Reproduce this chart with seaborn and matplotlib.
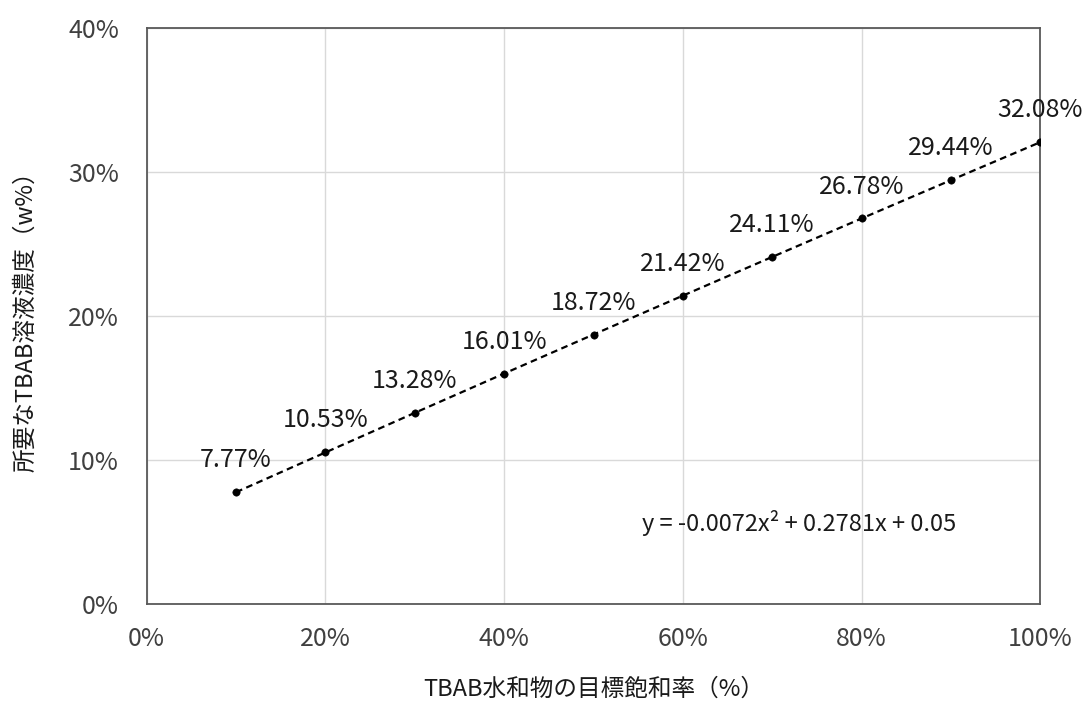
import numpy as np
import pandas as pd
import matplotlib
matplotlib.use("Agg")
import matplotlib.pyplot as plt
import seaborn as sns
from matplotlib.ticker import PercentFormatter

# データ
saturation = [0.1, 0.2, 0.3, 0.4, 0.5, 0.6, 0.7, 0.8, 0.9, 1.0]
concentration = [0.0777, 0.1053, 0.1328, 0.1601, 0.1872, 0.2142, 0.2411, 0.2678, 0.2944, 0.3208]
point_labels = ["7.77%", "10.53%", "13.28%", "16.01%", "18.72%", "21.42%",
                "24.11%", "26.78%", "29.44%", "32.08%"]
equation = "y = -0.0072x² + 0.2781x + 0.05"

df = pd.DataFrame({"x": saturation, "y": concentration})

sns.set_style("white")
plt.rcParams["font.family"] = ["Noto Sans CJK JP", "DejaVu Sans"]

fig = plt.figure(figsize=(10.87, 7.04), dpi=100)
ax = fig.add_axes([0.135, 0.142, 0.822, 0.818])

sns.lineplot(data=df, x="x", y="y", ax=ax, color="black", linestyle=(0, (3, 2)),
             linewidth=1.6, zorder=3)
sns.scatterplot(data=df, x="x", y="y", ax=ax, color="black", s=28,
                edgecolor="black", zorder=4)

for x, y, lab in zip(saturation, concentration, point_labels):
    ax.annotate(lab, (x, y), xytext=(0, 23), textcoords="offset points",
                ha="center", va="center", fontsize=18, color="#1a1a1a")

ax.text(0.73, 0.056, equation, ha="center", va="center", fontsize=17, color="#1a1a1a")

ax.set_xlim(0, 1.0)
ax.set_ylim(0, 0.4)
ax.set_xticks(np.arange(0, 1.01, 0.2))
ax.set_yticks(np.arange(0, 0.41, 0.1))
ax.xaxis.set_major_formatter(PercentFormatter(1.0, decimals=0))
ax.yaxis.set_major_formatter(PercentFormatter(1.0, decimals=0))
ax.tick_params(axis="both", length=0, labelsize=18, labelcolor="#404040")
ax.tick_params(axis="x", pad=16)
ax.tick_params(axis="y", pad=20)
ax.grid(True, color="#d9d9d9", linewidth=1)
ax.set_axisbelow(True)
for sp in ax.spines.values():
    sp.set_visible(True)
    sp.set_color("#595959")
    sp.set_linewidth(1.3)

ax.set_xlabel("TBAB水和物の目標飽和率（%）", fontsize=17, color="#1a1a1a", labelpad=18)
ax.set_ylabel("所要なTBAB溶液濃度（w%）", fontsize=17, color="#1a1a1a", labelpad=22)

fig.savefig("out.png", dpi=100)
